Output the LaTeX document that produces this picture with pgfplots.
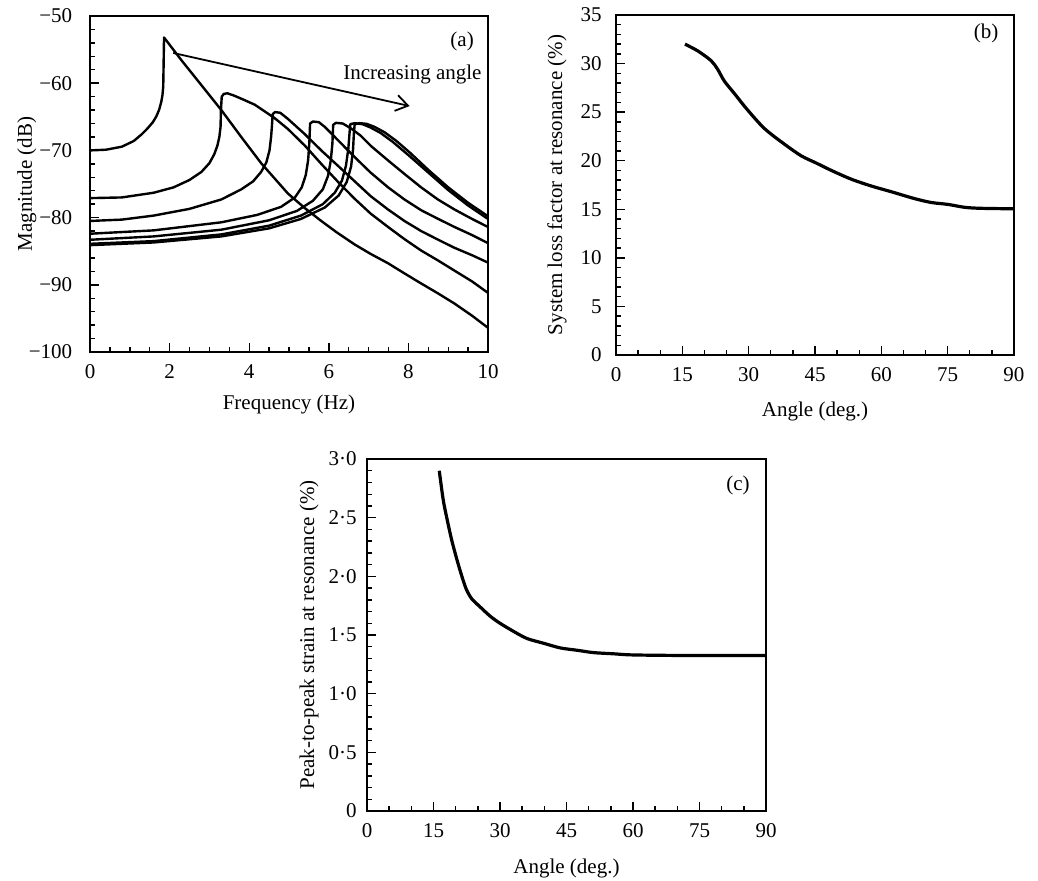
\documentclass[border=0pt]{standalone}
\usepackage{fontspec}
\setmainfont{Liberation Serif}
\usepackage{pgfplots}
\pgfplotsset{compat=1.18}
\usetikzlibrary{arrows.meta}

\pgfplotsset{
  panel/.style={
    scale only axis,
    axis line style={line width=0.9pt},
    tick align=inside,
    xtick pos=lower, ytick pos=left,
    major tick length=4.5pt, minor tick length=2.5pt,
    every tick/.append style={line width=0.7pt, black},
    xticklabel style={anchor=base, yshift=-13pt},
  },
  curve/.style={black, line width=1.2pt, line join=round, mark=none},
}

\begin{document}
\begin{tikzpicture}[font=\fontsize{10.5}{12.6}\selectfont]
\useasboundingbox (0,0) rectangle (519pt,440pt);

% ---------------- (a) ----------------
\begin{axis}[panel,
  at={(45pt,264pt)}, anchor=south west,
  width=199pt, height=168pt,
  xmin=0, xmax=10, ymin=-100, ymax=-50,
  xtick={0,2,4,6,8,10}, xticklabels={0,2,4,6,8,10},
  ytick={-100,-90,-80,-70,-60,-50},
  yticklabels={−100,−90,−80,−70,−60,−50},
  minor x tick num=3, minor y tick num=4,
  yticklabel style={xshift=-5.4pt},
  xlabel={Frequency (Hz)}, ylabel={Magnitude (dB)},
  xlabel style={at={([yshift=-28.5pt]axis description cs:0.5,0)}, anchor=base},
  ylabel style={at={([xshift=-29pt]axis description cs:0,0.5)}, anchor=base},
  clip=false,
]
\addplot[curve] coordinates {(0,-70.0) (0.4,-69.9) (0.8,-69.45) (1.1,-68.6) (1.3,-67.6) (1.45,-66.7) (1.58,-65.8) (1.67,-64.9) (1.74,-63.9) (1.79,-62.8) (1.82,-61.8) (1.84,-60.5) (1.85,-57) (1.86,-53.2) (2.3,-56.6) (2.8,-60.3) (3.3,-64.0) (3.8,-68.0) (4.3,-71.9) (4.97,-76.4) (5.4,-78.6) (5.81,-80.5) (6.2,-82.2) (6.65,-84.0) (7.05,-85.4) (7.49,-86.8) (7.9,-88.3) (8.32,-89.8) (8.75,-91.3) (9.16,-92.8) (9.6,-94.6) (10,-96.4)};
\addplot[curve] coordinates {(0,-77.1) (0.8,-77.0) (1.6,-76.3) (2.1,-75.5) (2.5,-74.4) (2.8,-73.2) (3.0,-71.9) (3.12,-70.6) (3.2,-69.3) (3.25,-68.0) (3.28,-66.5) (3.29,-64) (3.31,-62.0) (3.36,-61.6) (3.45,-61.5) (3.6,-61.8) (3.8,-62.3) (4.14,-63.2) (4.64,-65.2) (4.97,-66.8) (5.4,-69.3) (5.81,-72.0) (6.25,-74.8) (6.65,-77.2) (7.05,-79.4) (7.49,-81.4) (7.9,-83.2) (8.32,-84.9) (8.75,-86.4) (9.16,-87.9) (9.6,-89.5) (10,-91.2)};
\addplot[curve] coordinates {(0,-80.5) (0.8,-80.3) (1.6,-79.7) (2.5,-78.7) (3.3,-77.3) (3.8,-75.8) (4.1,-74.6) (4.3,-73.2) (4.43,-71.8) (4.51,-70.0) (4.55,-68.0) (4.57,-66.5) (4.59,-64.6) (4.65,-64.3) (4.78,-64.4) (4.97,-65.3) (5.4,-67.6) (5.81,-70.0) (6.25,-72.4) (6.65,-74.6) (7.05,-76.8) (7.49,-78.8) (7.9,-80.5) (8.32,-82.0) (8.75,-83.3) (9.16,-84.5) (9.6,-85.6) (10,-86.7)};
\addplot[curve] coordinates {(0,-82.4) (1.6,-81.9) (3.3,-80.7) (4.2,-79.6) (4.8,-78.4) (5.15,-77.0) (5.32,-75.5) (5.42,-73.7) (5.48,-71.5) (5.51,-69) (5.53,-66.0) (5.6,-65.7) (5.75,-65.8) (5.9,-66.5) (6.25,-68.6) (6.65,-71.0) (7.05,-73.3) (7.49,-75.5) (7.9,-77.3) (8.32,-78.9) (8.75,-80.2) (9.16,-81.4) (9.6,-82.6) (10,-83.8)};
\addplot[curve] coordinates {(0,-83.3) (1.6,-82.8) (3.3,-81.8) (4.5,-80.4) (5.2,-79.0) (5.6,-77.5) (5.85,-75.8) (5.98,-73.8) (6.05,-71.5) (6.09,-69) (6.11,-66.2) (6.18,-65.9) (6.35,-66.0) (6.55,-66.7) (6.8,-67.8) (7.07,-69.4) (7.49,-71.5) (7.9,-73.5) (8.32,-75.5) (8.74,-77.3) (9.16,-78.8) (9.6,-80.2) (10,-81.4)};
\addplot[curve] coordinates {(0,-83.9) (1.6,-83.5) (3.3,-82.5) (4.5,-81.2) (5.3,-79.7) (5.85,-78.0) (6.15,-76.3) (6.33,-74.5) (6.43,-72.3) (6.49,-69.8) (6.52,-67.5) (6.54,-66.1) (6.65,-65.95) (6.85,-66.1) (7.05,-66.6) (7.3,-67.4) (7.6,-68.7) (8.0,-70.7) (8.5,-73.3) (9.0,-75.9) (9.5,-78.2) (10,-80.2)};
\addplot[curve] coordinates {(0,-84.1) (1.6,-83.7) (3.3,-82.8) (4.5,-81.6) (5.3,-80.2) (5.9,-78.5) (6.25,-76.7) (6.45,-74.7) (6.56,-72.4) (6.61,-69.8) (6.63,-67.5) (6.65,-66.1) (6.78,-65.95) (6.95,-66.05) (7.15,-66.5) (7.4,-67.3) (7.7,-68.6) (8.05,-70.4) (8.5,-72.9) (9.0,-75.5) (9.5,-77.8) (10,-79.8)};
\draw[line width=0.9pt, -{Straight Barb[length=6pt,width=8pt]}] (axis cs:2.09,-55.5) -- (axis cs:8.03,-63.4);
\node at (axis cs:8.1,-58.7) {Increasing angle};
\node at (rel axis cs:0.935,0.923) {(a)};
\end{axis}

% ---------------- (b) ----------------
\begin{axis}[panel,
  at={(308pt,262.5pt)}, anchor=south west,
  width=199pt, height=170pt,
  xmin=0, xmax=90, ymin=0, ymax=35,
  xtick={0,15,30,45,60,75,90}, xticklabels={0,15,30,45,60,75,90},
  ytick={0,5,10,15,20,25,30,35}, yticklabels={0,5,10,15,20,25,30,35},
  minor x tick num=2, minor y tick num=4,
  yticklabel style={xshift=-3.7pt},
  xlabel={Angle (deg.)}, ylabel={System loss factor at resonance (\%)},
  xlabel style={at={([yshift=-30.5pt]axis description cs:0.5,0)}, anchor=base},
  ylabel style={at={([xshift=-27pt]axis description cs:0,0.5)}, anchor=base},
  clip=false,
]
\addplot[curve, line width=1.6pt, smooth, tension=0.5] coordinates {(15.6,32.0) (18.5,31.3) (21.5,30.3) (23.0,29.4) (24.5,28.2) (26.8,26.9) (29.8,25.2) (33.6,23.3) (38.1,21.7) (41.9,20.5) (45.1,19.8) (48.7,19.0) (53.2,18.1) (57.7,17.4) (62.3,16.8) (67.5,16.1) (71.3,15.7) (75.1,15.5) (78.9,15.2) (82.6,15.1) (89.8,15.05)};
\node at (rel axis cs:0.93,0.947) {(b)};
\end{axis}

% ---------------- (c) ----------------
\begin{axis}[panel,
  at={(183.5pt,34.5pt)}, anchor=south west,
  width=199.5pt, height=176pt,
  xmin=0, xmax=90, ymin=0, ymax=3,
  xtick={0,15,30,45,60,75,90}, xticklabels={0,15,30,45,60,75,90},
  ytick={0,0.5,1,1.5,2,2.5,3}, yticklabels={0,0·5,1·0,1·5,2·0,2·5,3·0},
  minor x tick num=2, minor y tick num=4,
  yticklabel style={xshift=-1.7pt},
  xlabel={Angle (deg.)}, ylabel={Peak-to-peak strain at resonance (\%)},
  xlabel style={at={([yshift=-31pt]axis description cs:0.5,0)}, anchor=base},
  ylabel style={at={([xshift=-26.5pt]axis description cs:0,0.5)}, anchor=base},
  clip=false,
]
\addplot[curve, line width=1.6pt, smooth, tension=0.5] coordinates {(16.3,2.90) (17.2,2.65) (18.1,2.48) (19.1,2.31) (20.3,2.14) (21.4,2.00) (22.4,1.89) (23.6,1.81) (25.5,1.74) (27.8,1.66) (30.0,1.60) (33.1,1.53) (36.1,1.47) (39.8,1.43) (43.6,1.39) (47.4,1.37) (51.1,1.35) (55.6,1.34) (60.2,1.33) (73.7,1.325) (90,1.325)};
\node at (rel axis cs:0.93,0.926) {(c)};
\end{axis}
\end{tikzpicture}
\end{document}
